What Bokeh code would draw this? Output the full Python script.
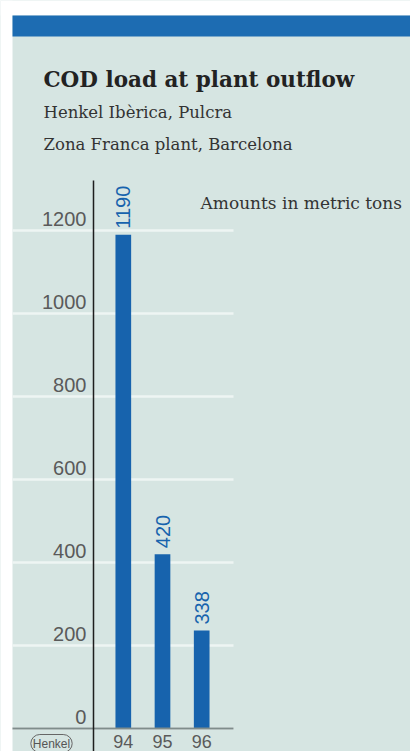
import math
from bokeh.plotting import figure
from bokeh.models import (Range1d, LinearAxis, FixedTicker, Label, BoxAnnotation,
                          ColumnDataSource, Grid)
from bokeh.core.properties import value
from bokeh.embed import file_html
from bokeh.resources import INLINE

# ---- data ----
years = [94, 95, 96]
year_labels = ["94", "95", "96"]
bar_heights = [1190, 420, 236]          # heights as drawn in the picture
value_labels = ["1190", "420", "338"]   # values as printed above the bars
y_ticks = [0, 200, 400, 600, 800, 1000, 1200]
y_tick_labels = ["0", "200", "400", "600", "800", "1000", "1200"]

title = "COD load at plant outflow"
subtitle1 = "Henkel Ibèrica, Pulcra"
subtitle2 = "Zona Franca plant, Barcelona"
unit_note = "Amounts in metric tons"
logo_text = "Henkel"

# ---- styles ----
BG = "#d6e5e2"
BAND = "#1d6cb2"
BAR = "#1763ad"
GRID = "#eef5f3"
SERIF = "DejaVu Serif"
SANS = "Liberation Sans"
LABEL_LIFT = 28   # tick labels sit just above their grid lines

W, H = 410, 751

src = ColumnDataSource(dict(x=years, top=bar_heights, lab=value_labels))

p = figure(width=W, height=H,
           x_range=Range1d(90.867, 101.327), y_range=Range1d(-55.4, 1754.2),
           output_backend="svg", toolbar_location=None,
           x_axis_location=None, y_axis_location=None,
           min_border_left=0, min_border_right=0,
           min_border_top=0, min_border_bottom=0,
           background_fill_color=BG, border_fill_color="white",
           outline_line_color=None)
# drop any default grids
p.center = [r for r in p.center if not isinstance(r, Grid)]

# page decoration: white margins and the blue band on top
for l, r, b, t, c in [(0, 12, 0, H, "white"), (0, W, 736, H, "white"),
                      (12, W, 715, 736, BAND)]:
    p.add_layout(BoxAnnotation(left=l, right=r, bottom=b, top=t,
                               left_units="screen", right_units="screen",
                               bottom_units="screen", top_units="screen",
                               fill_color=c, fill_alpha=1, line_color=None,
                               level="underlay"))

p.add_layout(Grid(dimension=1, ticker=FixedTicker(ticks=y_ticks),
                  grid_line_color=GRID, grid_line_width=2.5,
                  cross_bounds=(91.17, 96.81)))

yaxis = LinearAxis(fixed_location=93.239, bounds=(-56, 1320),
                   ticker=FixedTicker(ticks=[v + LABEL_LIFT for v in y_ticks]),
                   major_label_overrides={v + LABEL_LIFT: s for v, s in zip(y_ticks, y_tick_labels)},
                   axis_line_color="#1e1e1e", axis_line_width=1.5,
                   major_tick_line_color=None, minor_tick_line_color=None,
                   major_label_standoff=1,
                   major_label_text_font=SANS,
                   major_label_text_font_size="20px",
                   major_label_text_color="#5a5a5a")
p.add_layout(yaxis, "left")

xaxis = LinearAxis(fixed_location=0, bounds=(91.17, 96.81),
                   ticker=FixedTicker(ticks=years),
                   major_label_overrides={y: l for y, l in zip(years, year_labels)},
                   axis_line_color="#7f8c8b", axis_line_width=2,
                   major_tick_line_color=None, minor_tick_line_color=None,
                   major_label_standoff=0,
                   major_label_text_font=SANS,
                   major_label_text_font_size="18px",
                   major_label_text_color="#5a5a5a")
p.add_layout(xaxis, "below")

p.vbar(x="x", top="top", width=0.40, source=src, fill_color=BAR, line_color=None)

p.text(x="x", y="top", text="lab", source=src, angle=math.pi / 2,
       text_align="left", text_baseline="middle", y_offset=-6,
       text_font=value(SANS), text_font_size="20px", text_color=BAR)

def lab(text, x, y, size, style="normal", color="#2a2a2a", font=SERIF, **kw):
    p.add_layout(Label(text=text, x=x, y=y, x_units="screen", y_units="screen",
                       text_font=font, text_font_size=size,
                       text_font_style=style, text_color=color,
                       text_baseline="middle", **kw))

lab(title, 43, 672, "21.5px", style="bold", color="#222222")
lab(subtitle1, 43, 639, "16.5px", color="#333333")
lab(subtitle2, 43, 607, "16.5px", color="#333333")
lab(unit_note, 200, 549, "17px", color="#333333")
lab(logo_text, 51, 8, "12px", color="#555555", font=SANS, text_align="center",
    border_line_color="#666666", border_radius=10, padding=2)

open("out.html", "w").write(file_html(p, INLINE))
